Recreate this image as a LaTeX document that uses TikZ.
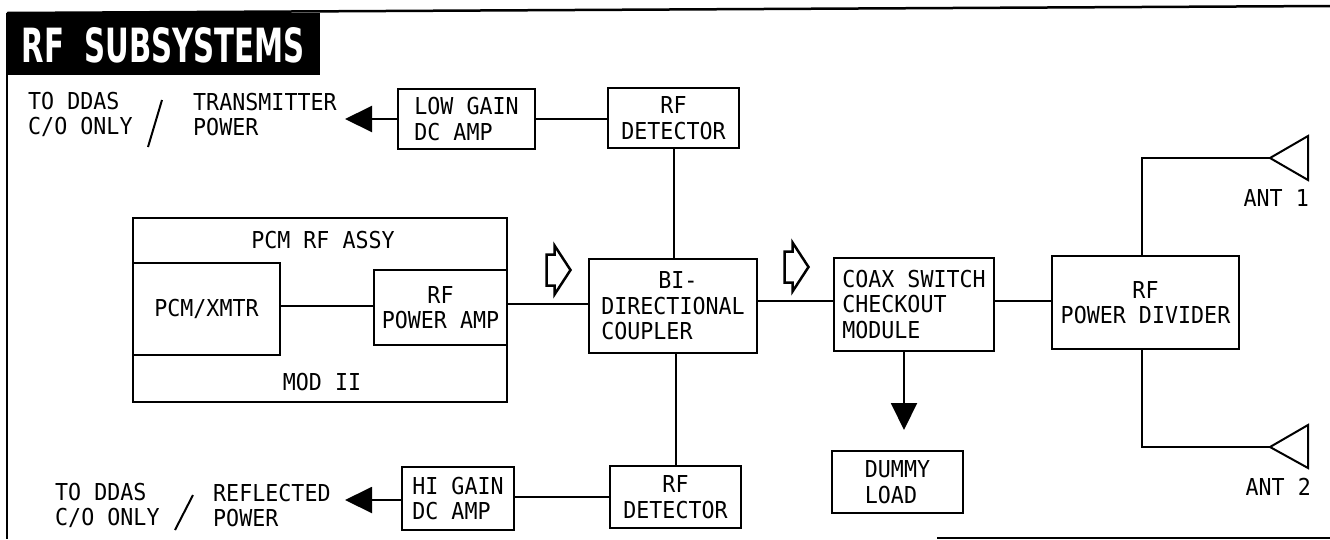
\documentclass[tikz,border=0pt]{standalone}
\usepackage{fontspec}
\usepackage{graphicx}
\newfontfamily\dmono[FakeStretch=0.93]{DejaVu Sans Mono}
\newfontfamily\dsans{DejaVu Sans}
\usetikzlibrary{arrows.meta}
\tikzset{
  lbl/.style={font=\dmono\fontsize{23.3}{25.5}\selectfont, inner sep=0pt},
  blk/.style={lbl, draw, line width=2pt},
  wire/.style={line width=2pt},
  fatarrow/.style={wire, -{Triangle[length=27pt,width=26pt]}},
  harrow/.pic={\draw[line width=2.5pt, line join=miter]
     (-12,-15.5)--(-4,-15.5)--(-4,-24.5)--(12,0)--(-4,24.5)--(-4,15.5)--(-12,15.5)--cycle;},
}
\begin{document}
\begin{tikzpicture}[x=1pt,y=-1pt]
\useasboundingbox (0,0) rectangle (1330,539);
% frame and title
\fill[black] (7,13) rectangle (320,75);
\node[inner sep=0pt, text=white] (title) at (163.5,45.5)
  {\resizebox{283pt}{35pt}{\dsans\bfseries RF\ \ SUBSYSTEMS}};
\draw[line width=2.5pt] (7,13) -- (1330,6);
\draw[line width=2pt] (7,13) -- (7,539);
\draw[line width=2pt] (937,537.5) -- (1330,537.5);

% top row
\node[lbl, anchor=west, align=left] (ddas1) at (28,114.5) {TO DDAS\\C/O ONLY};
\draw[line width=2pt] (148,147) -- (162,100);
\node[lbl, anchor=west, align=left] (txp) at (193,114.5) {TRANSMITTER\\POWER};
\coordinate (tip1) at (345,119);
\node[blk, minimum width=137, minimum height=60, align=left] (lowgain) at (466.5,119) {LOW GAIN\\DC AMP};
\node[blk, minimum width=131, minimum height=60, align=center] (rfdet1) at (673.5,118) {RF\\DETECTOR};
\draw[fatarrow] (lowgain.west) -- (tip1);
\draw[wire] (lowgain.east) -- (lowgain.east -| rfdet1.west);

% PCM RF assembly
\node[draw, line width=2pt, minimum width=374, minimum height=184, inner sep=0pt] (pcm) at (320,310) {};
\node[lbl] (pcmlbl) at (323,240) {PCM RF ASSY};
\node[lbl] (modlbl) at (322,382) {MOD II};
\node[blk, minimum width=147, minimum height=92] (pcmx) at (206.5,309) {PCM/XMTR};
\node[blk, minimum width=133, minimum height=75, align=center] (rfpa) at (440.5,307.5) {RF\\POWER AMP};
\draw[wire] (pcmx.east |- 0,306) -- (rfpa.west |- 0,306);

% coupler
\node[blk, minimum width=168, minimum height=94, align=left] (coupler) at (673,306) {\hspace*{57pt}BI-\\DIRECTIONAL\\COUPLER};
\draw[wire] (pcm.east |- 0,304) -- (coupler.west |- 0,304);
\pic at (558.5,270) {harrow};
\draw[wire] (rfdet1.south -| 674,0) -- (coupler.north -| 674,0);

% lower detector row
\node[blk, minimum width=131, minimum height=62, align=center] (rfdet2) at (675.5,497) {RF\\DETECTOR};
\node[blk, minimum width=112, minimum height=63, align=left] (higain) at (458,498.5) {HI GAIN\\DC AMP};
\draw[wire] (coupler.south -| 676,0) -- (rfdet2.north -| 676,0);
\draw[wire] (rfdet2.west |- 0,497) -- (higain.east |- 0,497);
\coordinate (tip2) at (345,500);
\draw[fatarrow] (higain.west |- tip2) -- (tip2);
\node[lbl, anchor=west, align=left] (ddas2) at (55,505.5) {TO DDAS\\C/O ONLY};
\draw[line width=2pt] (175,530) -- (193,495);
\node[lbl, anchor=west, align=left] (refp) at (213,505.5) {REFLECTED\\POWER};

% coax switch
\node[blk, minimum width=160, minimum height=93, align=left] (coax) at (914,304.5) {COAX SWITCH\\CHECKOUT\\MODULE};
\draw[wire] (coupler.east |- 0,301) -- (coax.west |- 0,301);
\pic at (796.5,267) {harrow};
\node[blk, minimum width=131, minimum height=62, align=left] (dummy) at (897.5,482) {DUMMY\\LOAD};
\coordinate (tip3) at (904,430);
\draw[fatarrow] (coax.south -| tip3) -- (tip3);

% power divider and antennas
\node[blk, minimum width=187, minimum height=93, align=center] (rfpd) at (1145.5,302.5) {RF\\POWER DIVIDER};
\draw[wire] (coax.east |- 0,301) -- (rfpd.west |- 0,301);
\coordinate (c1) at (1142,158);
\coordinate (a1) at (1270,158);
\coordinate (c2) at (1142,447);
\coordinate (a2) at (1270,447);
\draw[wire] (rfpd.north -| c1) -- (c1) -- (a1);
\draw[wire] (rfpd.south -| c2) -- (c2) -- (a2);
\draw[wire, line join=miter] (a1) -- (1308,136) -- (1308,180) -- cycle;
\draw[wire, line join=miter] (a2) -- (1308,425) -- (1308,468) -- cycle;
\node[lbl, anchor=east] (ant1) at (1309,198) {ANT 1};
\node[lbl, anchor=east] (ant2) at (1311,487) {ANT 2};
\end{tikzpicture}
\end{document}
